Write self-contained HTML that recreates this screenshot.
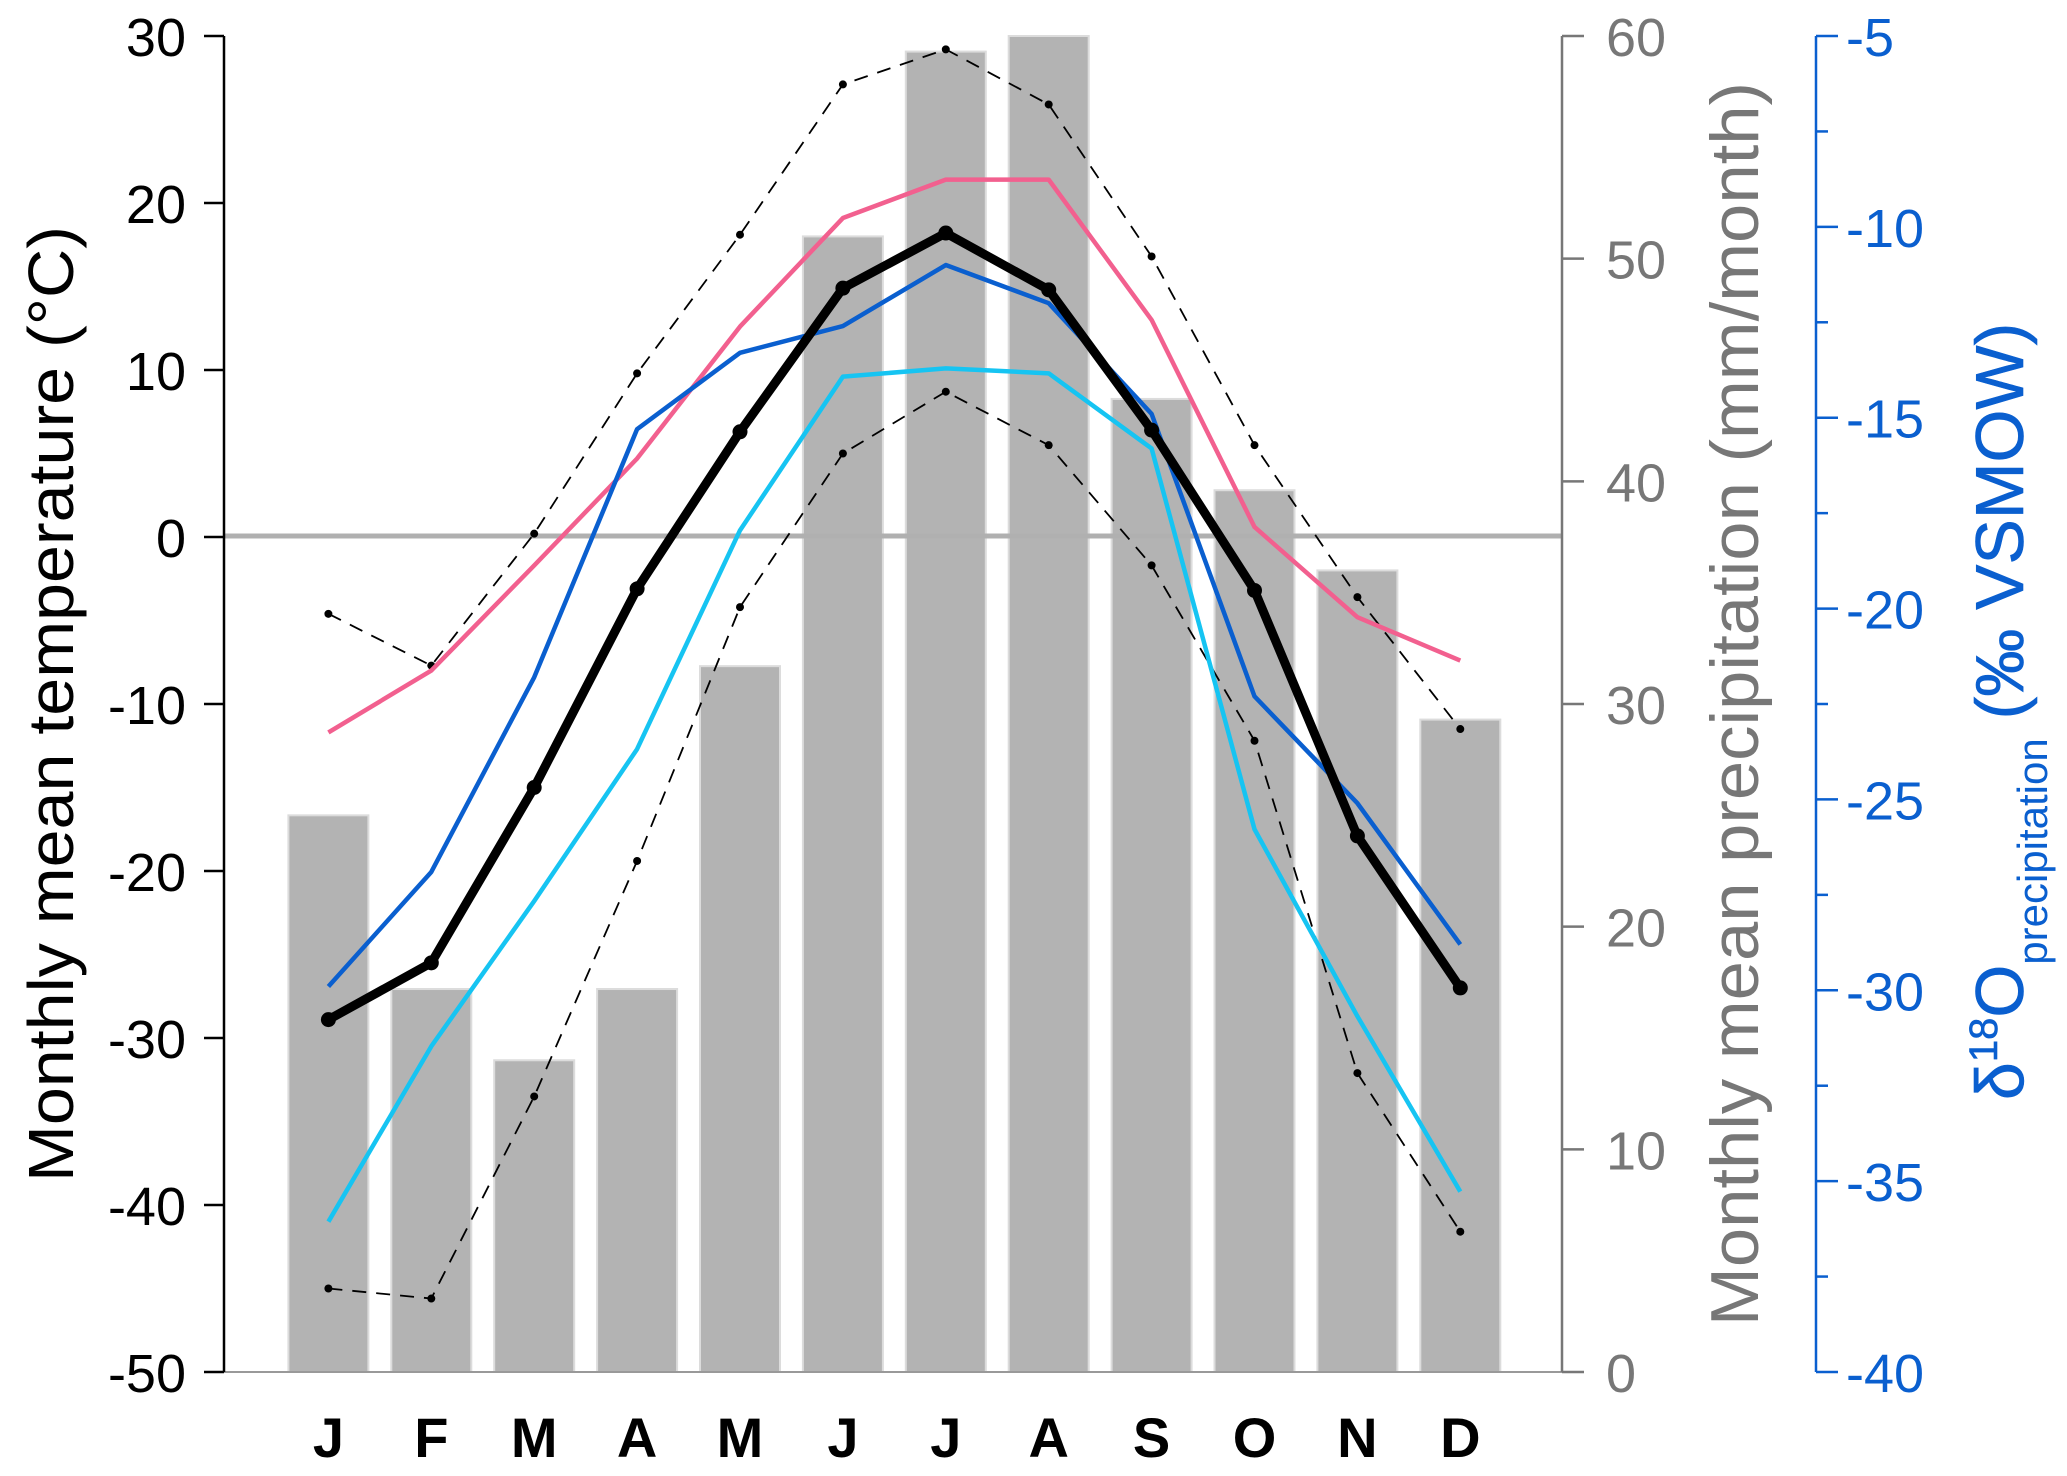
<!DOCTYPE html>
<html><head><meta charset="utf-8"><style>
html,body{margin:0;padding:0;background:#fff;}
svg{display:block;font-family:"Liberation Sans",sans-serif;}
</style></head><body>
<svg id="chart" width="2067" height="1476" viewBox="0 0 2067 1476" xmlns="http://www.w3.org/2000/svg">
<g id="bars"></g>
<line x1="224" y1="536" x2="1562" y2="536" stroke="#b0b0b0" stroke-width="5"/>
<line x1="224" y1="1372" x2="1562" y2="1372" stroke="#999" stroke-width="2"/>
<g id="series"></g>
<g id="axes"></g>
<text transform="translate(73,704) rotate(-90)" text-anchor="middle" font-size="64" fill="#000" textLength="956" lengthAdjust="spacingAndGlyphs">Monthly mean temperature (°C)</text>
<text transform="translate(1758,704) rotate(-90)" text-anchor="middle" font-size="68" fill="#777" textLength="1244" lengthAdjust="spacingAndGlyphs">Monthly mean precipitation (mm/month)</text>
<text transform="translate(2023,1100) rotate(-90)" font-size="68" fill="#0a5fcf" stroke="#0a5fcf" stroke-width="0.6">δ<tspan font-size="40" dy="-26">18</tspan><tspan dy="26">O</tspan><tspan font-size="42" dy="24" stroke-width="0">precipitation</tspan><tspan dy="-24"> (‰ VSMOW)</tspan></text>
</svg>
<script>
const months = ["J","F","M","A","M","J","J","A","S","O","N","D"];
const precip = [25.0,17.2,14.0,17.2,31.7,51.0,59.3,60.0,43.7,39.6,36.0,29.3];
const tMean = [-28.9,-25.5,-15.0,-3.1,6.3,14.9,18.2,14.8,6.4,-3.2,-17.9,-27.0];
const tMax = [-4.6,-7.7,0.2,9.8,18.1,27.1,29.2,25.9,16.8,5.5,-3.6,-11.5];
const tMin = [-45.0,-45.6,-33.5,-19.4,-4.2,5.0,8.7,5.5,-1.7,-12.2,-32.1,-41.6];
const pinkSeries = [-11.7,-8.0,-1.7,4.7,12.6,19.1,21.4,21.4,13.0,0.6,-4.8,-7.4];
const cyanSeries = [-41.0,-30.5,-21.8,-12.7,0.4,9.6,10.1,9.8,5.3,-17.5,-28.7,-39.2];
const d18O = [-29.9,-26.9,-21.8,-15.3,-13.3,-12.6,-11.0,-12.0,-14.9,-22.3,-25.1,-28.8];
const tempTicks = [30,20,10,0,-10,-20,-30,-40,-50];
const precipTicks = [60,50,40,30,20,10,0];
const d18Ticks = [-5,-10,-15,-20,-25,-30,-35,-40];

const NS="http://www.w3.org/2000/svg";
const TOP=36, BOT=1372;
const xM = i => 328.4 + 102.9*i;
const yT = v => TOP + (30-v)/80*(BOT-TOP);
const yP = v => BOT - v/60*(BOT-TOP);
const yD = v => TOP + (-5-v)/35*(BOT-TOP);
function mk(tag, attrs, parent){const e=document.createElementNS(NS,tag);for(const k in attrs)e.setAttribute(k,attrs[k]);parent.appendChild(e);return e;}
const bars=document.getElementById('bars'), series=document.getElementById('series'), axes=document.getElementById('axes');

precip.forEach((v,i)=>{
  const r=mk('rect',{x:xM(i)-40,y:yP(v),width:80,height:BOT-yP(v),fill:'#b3b3b3',stroke:'#dcdcdc','stroke-width':2},bars);
  
  
});

function line(arr, yf, color, w, dash, name){
  const p=mk('polyline',{points:arr.map((v,i)=>xM(i)+','+yf(v)).join(' '),fill:'none',stroke:color,'stroke-width':w,'stroke-linejoin':'round'},series);
  if(dash) p.setAttribute('stroke-dasharray',dash);
  
  
  return p;
}
function dots(arr, yf, r, name){
  arr.forEach((v,i)=>{
    const c=mk('circle',{cx:xM(i),cy:yf(v),r:r,fill:'#000'},series);
    
    
  });
}
line(tMax,yT,'#000',1.8,'14,10','max-temp-line'); dots(tMax,yT,4,'max-temp');
line(tMin,yT,'#000',1.8,'14,10','min-temp-line'); dots(tMin,yT,4,'min-temp');
line(pinkSeries,yT,'#f2608f',4.5,null,'pink-series-line');
line(d18O,yD,'#0a5fcf',4.5,null,'d18o-line');
line(cyanSeries,yT,'#16c4f2',4.5,null,'cyan-series-line');
line(tMean,yT,'#000',9,null,'mean-temp-line'); dots(tMean,yT,7.5,'mean-temp');

mk('line',{x1:224,y1:TOP,x2:224,y2:BOT,stroke:'#000','stroke-width':2.5},axes);
tempTicks.forEach(v=>{
  mk('line',{x1:204,y1:yT(v),x2:224,y2:yT(v),stroke:'#000','stroke-width':2.5},axes);
  const t=mk('text',{x:186,y:yT(v)+20,'text-anchor':'end','font-size':54,fill:'#000'},axes);
  t.textContent=v;
  
  
});
mk('line',{x1:1562,y1:TOP,x2:1562,y2:BOT,stroke:'#777','stroke-width':2.5},axes);
precipTicks.forEach(v=>{
  mk('line',{x1:1562,y1:yP(v),x2:1584,y2:yP(v),stroke:'#777','stroke-width':2.5},axes);
  const t=mk('text',{x:1606,y:yP(v)+20,'font-size':54,fill:'#777'},axes);
  t.textContent=v;
  
  
});
mk('line',{x1:1816,y1:TOP,x2:1816,y2:BOT,stroke:'#0a5fcf','stroke-width':2.5},axes);
for(let v=-5; v>=-40; v-=2.5){
  const major = v%5===0;
  mk('line',{x1:1816,y1:yD(v),x2:major?1838:1828,y2:yD(v),stroke:'#0a5fcf','stroke-width':2.5},axes);
}
d18Ticks.forEach(v=>{
  const t=mk('text',{x:1846,y:yD(v)+20,'font-size':54,fill:'#0a5fcf'},axes);
  t.textContent=v;
  
  
});
months.forEach((m,i)=>{
  const t=mk('text',{x:xM(i),y:1457,'text-anchor':'middle','font-size':56,'font-weight':'bold',fill:'#000'},axes);
  t.textContent=m;
  
  
});
</script>
</body></html>
